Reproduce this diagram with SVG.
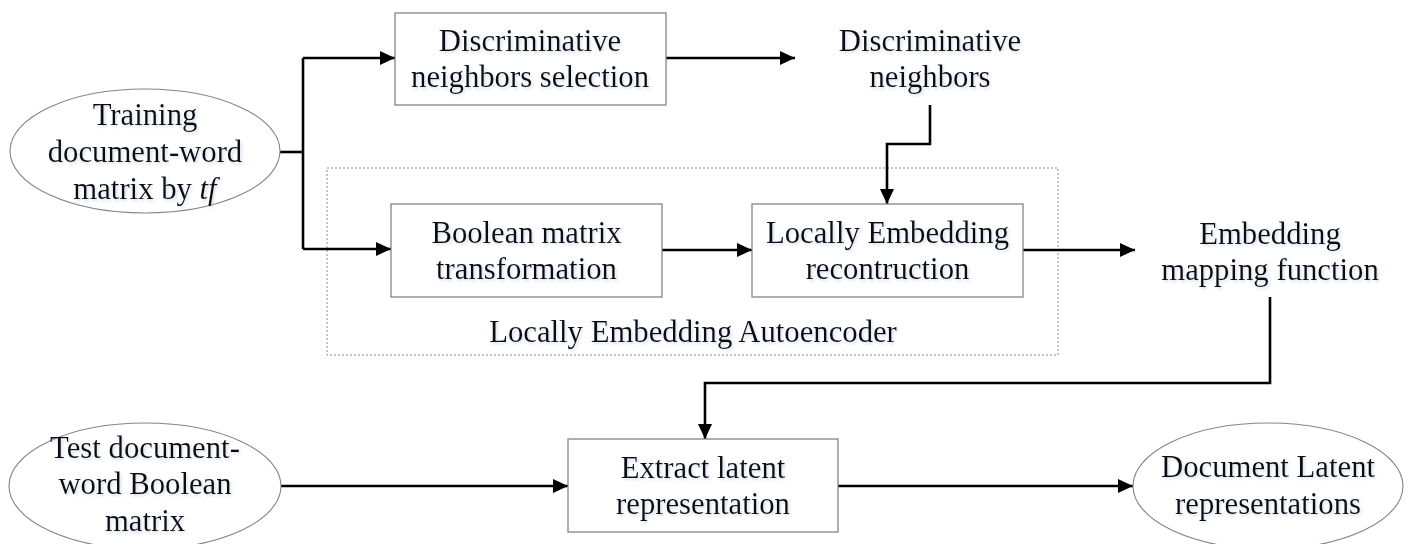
<svg xmlns="http://www.w3.org/2000/svg" width="1408" height="544" viewBox="0 0 1408 544">
<style>
  .box { fill: #ffffff; stroke: #858585; stroke-width: 1.3; }
  .ell { fill: #ffffff; stroke: #858585; stroke-width: 1.1; }
  .grp { fill: none; stroke: #8a8a8a; stroke-width: 1; stroke-dasharray: 2 2; }
  .lbl { font-family: "Liberation Serif", "Times New Roman", serif; font-size: 32px; fill: #111111; text-anchor: middle; filter: url(#glow); }
  .con { fill: none; stroke: #000000; stroke-width: 2.6; stroke-linejoin: miter; }
</style>
<defs>
  <marker id="arr" markerUnits="userSpaceOnUse" markerWidth="16" markerHeight="14" refX="15" refY="7" orient="auto">
    <path d="M0,0 L15,7 L0,14 z" fill="#000000"/>
  </marker>
  <filter id="glow" x="-10%" y="-30%" width="120%" height="160%">
    <feDropShadow dx="1.5" dy="2" stdDeviation="1.5" flood-color="#9db4d6" flood-opacity="0.45"/>
  </filter>
</defs>
<rect x="0" y="0" width="1408" height="544" fill="#ffffff"/>

<g id="group-autoencoder">
  <rect class="grp" x="327" y="168" width="731" height="187"/>
  <text class="lbl" transform="translate(693,342) scale(0.96,1)">Locally Embedding Autoencoder</text>
</g>

<g id="connectors">
  <path class="con" d="M280,152 H303"/>
  <path class="con" d="M303,58 V249"/>
  <path class="con" d="M303,58 H395" marker-end="url(#arr)"/>
  <path class="con" d="M303,249 H391" marker-end="url(#arr)"/>
  <path class="con" d="M666,58 H795" marker-end="url(#arr)"/>
  <path class="con" d="M930,105 V144 H887 V204" marker-end="url(#arr)"/>
  <path class="con" d="M662,250 H752" marker-end="url(#arr)"/>
  <path class="con" d="M1023,250 H1135" marker-end="url(#arr)"/>
  <path class="con" d="M1270,297 V383 H705 V439" marker-end="url(#arr)"/>
  <path class="con" d="M281,486 H568" marker-end="url(#arr)"/>
  <path class="con" d="M838,486 H1133" marker-end="url(#arr)"/>
</g>

<g id="node-training">
  <ellipse class="ell" cx="145" cy="151" rx="135" ry="62"/>
  <text class="lbl" transform="translate(145,125) scale(0.96,1)">Training</text>
  <text class="lbl" transform="translate(145,162) scale(0.96,1)">document-word</text>
  <text class="lbl" transform="translate(145,199) scale(0.96,1)">matrix by <tspan font-style="italic">tf</tspan></text>
</g>

<g id="node-dns">
  <rect class="box" x="395" y="13" width="271" height="92"/>
  <text class="lbl" transform="translate(530,51) scale(0.96,1)">Discriminative</text>
  <text class="lbl" transform="translate(530,87) scale(0.96,1)">neighbors selection</text>
</g>

<g id="node-dn">
  <text class="lbl" transform="translate(930,51) scale(0.96,1)">Discriminative</text>
  <text class="lbl" transform="translate(930,87) scale(0.96,1)">neighbors</text>
</g>

<g id="node-boolean">
  <rect class="box" x="391" y="204" width="271" height="93"/>
  <text class="lbl" transform="translate(526.5,243) scale(0.96,1)">Boolean matrix</text>
  <text class="lbl" transform="translate(526.5,279) scale(0.96,1)">transformation</text>
</g>

<g id="node-ler">
  <rect class="box" x="752" y="204" width="271" height="93"/>
  <text class="lbl" transform="translate(887.5,243) scale(0.96,1)">Locally Embedding</text>
  <text class="lbl" transform="translate(887.5,279) scale(0.96,1)">recontruction</text>
</g>

<g id="node-emf">
  <text class="lbl" transform="translate(1270,244) scale(0.96,1)">Embedding</text>
  <text class="lbl" transform="translate(1270,280) scale(0.96,1)">mapping function</text>
</g>

<g id="node-test">
  <ellipse class="ell" cx="145" cy="486" rx="136" ry="63"/>
  <text class="lbl" transform="translate(145,458) scale(0.96,1)">Test document-</text>
  <text class="lbl" transform="translate(145,494) scale(0.96,1)">word Boolean</text>
  <text class="lbl" transform="translate(145,531) scale(0.96,1)">matrix</text>
</g>

<g id="node-extract">
  <rect class="box" x="568" y="439" width="270" height="93"/>
  <text class="lbl" transform="translate(703,478) scale(0.96,1)">Extract latent</text>
  <text class="lbl" transform="translate(703,514) scale(0.96,1)">representation</text>
</g>

<g id="node-dlr">
  <ellipse class="ell" cx="1268" cy="486" rx="135" ry="63"/>
  <text class="lbl" transform="translate(1268,477) scale(0.96,1)">Document Latent</text>
  <text class="lbl" transform="translate(1268,514) scale(0.96,1)">representations</text>
</g>
</svg>
